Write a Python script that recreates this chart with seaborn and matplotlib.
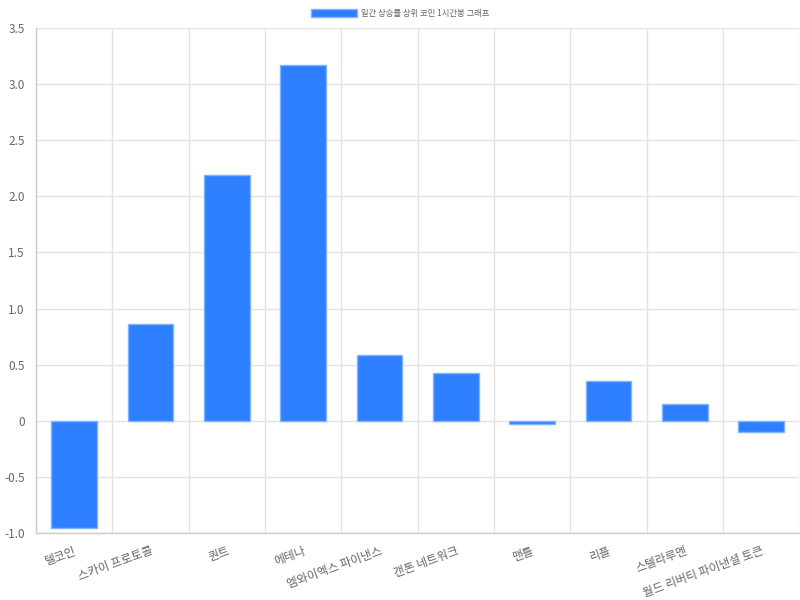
import numpy as np
import pandas as pd
import matplotlib
matplotlib.use('Agg')
import matplotlib.pyplot as plt
import seaborn as sns
from matplotlib.ticker import FixedLocator, FuncFormatter

coins = ['텔코인', '스카이 프로토콜', '퀀트', '에테나', '엠와이엑스 파이낸스',
         '캔톤 네트워크', '맨틀', '리플', '스텔라루멘', '월드 리버티 파이낸셜 토큰']
changes = [-0.96, 0.86, 2.19, 3.17, 0.59, 0.43, -0.03, 0.35, 0.15, -0.10]
series_name = '일간 상승률 상위 코인 1시간봉 그래프'

sns.set_style('white')
plt.rcParams['font.family'] = ['Noto Sans CJK KR', 'DejaVu Sans']

df = pd.DataFrame({'coin': coins, 'change': changes})

fig = plt.figure(figsize=(8, 6), dpi=100)
ax = fig.add_axes([0.045, 0.1117, 0.954, 0.8416])

sns.barplot(data=df, x='coin', y='change', ax=ax, color='#2e7fff', saturation=1,
            width=0.6, edgecolor='#80b3ff', linewidth=1, label=series_name)

ax.set_xlim(-0.5, len(coins) - 0.5)
ax.set_ylim(-1.0, 3.5)
ax.set_xlabel('')
ax.set_ylabel('')

grid_c = '#e3e3e3'
ax.yaxis.set_major_locator(FixedLocator(np.arange(-1.0, 3.51, 0.5)))
ax.yaxis.set_major_formatter(FuncFormatter(lambda v, p: '0' if abs(v) < 1e-9 else f'{v:.1f}'))
ax.xaxis.set_minor_locator(FixedLocator(np.arange(-0.5, len(coins), 1.0)))
ax.grid(axis='y', which='major', color=grid_c, linewidth=1)
ax.grid(axis='x', which='minor', color=grid_c, linewidth=1)
ax.set_axisbelow(True)

ax.tick_params(axis='y', which='major', length=6, color=grid_c, labelsize=8.5,
               labelcolor='#666666', pad=2)
ax.tick_params(axis='x', which='major', length=0, labelsize=8.5, labelcolor='#666666', pad=8)
ax.tick_params(axis='x', which='minor', length=6, color=grid_c, direction='out')
plt.setp(ax.get_xticklabels(), rotation=20, ha='right', rotation_mode='anchor')

for s in ['top', 'right']:
    ax.spines[s].set_visible(False)
for s in ['left', 'bottom']:
    ax.spines[s].set_color('#cccccc')
    ax.spines[s].set_linewidth(1)

handles, labels = ax.get_legend_handles_labels()
if ax.get_legend() is not None:
    ax.get_legend().remove()
fig.legend(handles, labels, loc='center', bbox_to_anchor=(0.5, 0.978), frameon=False,
           fontsize=6, handlelength=5.5, handleheight=1.1, labelcolor='#666666',
           handletextpad=0.5)

fig.savefig('out.png', dpi=100)
